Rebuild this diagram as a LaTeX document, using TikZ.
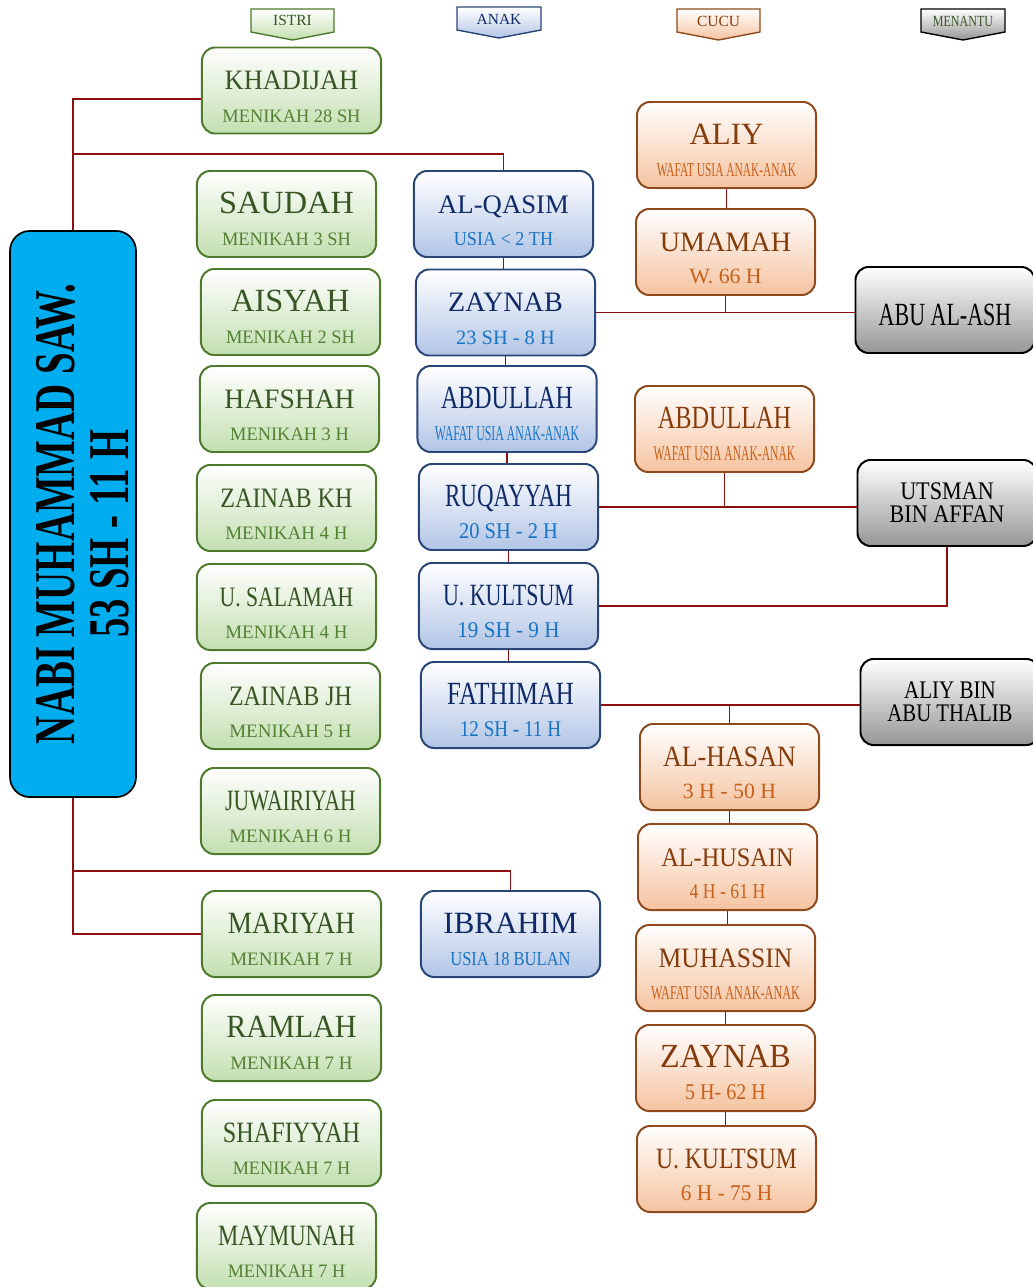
\documentclass[tikz,border=0pt]{standalone}
\usepackage{fontspec}
\usepackage{graphicx}
\setmainfont{Liberation Serif}
\definecolor{IstriLine}{HTML}{4E7A2E}
\definecolor{IstriFill}{HTML}{C3DFB0}
\definecolor{IstriText}{HTML}{375623}
\definecolor{IstriSub}{HTML}{548235}
\definecolor{AnakLine}{HTML}{2A4677}
\definecolor{AnakFill}{HTML}{B2C5E6}
\definecolor{AnakText}{HTML}{0F2A66}
\definecolor{AnakSub}{HTML}{1874C4}
\definecolor{CucuLine}{HTML}{8E4A1C}
\definecolor{CucuFill}{HTML}{F5C3A0}
\definecolor{CucuText}{HTML}{843C0C}
\definecolor{CucuSub}{HTML}{C8601A}
\definecolor{MenantuFill}{HTML}{969696}
\definecolor{NabiBlue}{HTML}{00AEEF}
\definecolor{LinkRed}{HTML}{8E0F0F}
\newcommand{\ttl}[3]{\rule{0pt}{22pt}\scalebox{#2}[1]{\fontsize{#1}{#1}\selectfont #3}}
\newcommand{\dte}[3]{\textcolor{\subc}{\scalebox{#2}[1]{\fontsize{#1}{#1}\selectfont #3}}}

\begin{document}
\begin{tikzpicture}[x=0.025cm,y=-0.025cm,
  box/.style={rounded corners=0.33cm,line width=1.4pt,minimum width=4.475cm,minimum height=2.15cm,
    align=center,inner sep=0pt,font=\fontsize{13}{23}\selectfont},
  istri/.style={box,draw=IstriLine,top color=white,bottom color=IstriFill,text=IstriText,
    execute at begin node={\def\subc{IstriSub}}},
  anak/.style={box,draw=AnakLine,top color=white,bottom color=AnakFill,text=AnakText,
    execute at begin node={\def\subc{AnakSub}}},
  cucu/.style={box,draw=CucuLine,top color=white,bottom color=CucuFill,text=CucuText,
    execute at begin node={\def\subc{CucuSub}}},
  menantu/.style={box,draw=black,top color=white,bottom color=MenantuFill,text=black,
    font=\fontsize{18}{16.5}\selectfont},
  nabi/.style={rounded corners=0.5cm,line width=1.2pt,draw=black,fill=NabiBlue,align=center,
    minimum width=14.15cm,minimum height=3.15cm,font=\bfseries\fontsize{41}{38}\selectfont},
  lgnd/.style={line width=1pt},
  lgtxt/.style={inner sep=0pt,font=\fontsize{11}{11}\selectfont},
  link/.style={LinkRed,line width=1.4pt}]
\useasboundingbox (0,0) rectangle (1032,1287);

% legend
\path[lgnd,draw=IstriLine,top color=white,bottom color=IstriFill] (251,9) -- (334,9) -- (334,32) -- (292.5,40) -- (251,32) -- cycle;
\path[lgnd,draw=AnakLine,top color=white,bottom color=AnakFill] (457,7) -- (541,7) -- (541,30) -- (499,38) -- (457,30) -- cycle;
\path[lgnd,draw=CucuLine,top color=white,bottom color=CucuFill] (677,9) -- (760,9) -- (760,32) -- (718.5,40) -- (677,32) -- cycle;
\path[lgnd,draw=black,top color=white,bottom color=MenantuFill] (921,9) -- (1005,9) -- (1005,32) -- (963,40) -- (921,32) -- cycle;
\node[lgtxt,text=IstriText] (lgistri) at (292.5,20) {ISTRI};
\node[lgtxt,text=AnakText] (lganak) at (499,19) {ANAK};
\node[lgtxt,text=CucuText] (lgcucu) at (718.5,21) {CUCU};
\node[lgtxt,text=IstriText] (lgmenantu) at (963,21) {\scalebox{.78}[1]{MENANTU}};

% nabi
\node[nabi,rotate=90] (nabi) at (73,514) {\rule{0pt}{41pt}\scalebox{.675}[1]{NABI MUHAMMAD SAW.}\\\scalebox{.67}[1]{53 SH - 11 H}\hspace*{28pt}};

% istri
\node[istri] (khadijah) at (291.5,90.5) {\ttl{20}{.94}{KHADIJAH}\\\dte{13.5}{.97}{MENIKAH 28 SH}};
\node[istri] (saudah) at (286.5,214) {\ttl{23}{1}{SAUDAH}\\\dte{13.5}{.97}{MENIKAH 3 SH}};
\node[istri] (aisyah) at (290.5,312) {\ttl{23}{1}{AISYAH}\\\dte{13.5}{.97}{MENIKAH 2 SH}};
\node[istri] (hafshah) at (289.5,409) {\ttl{20}{.98}{HAFSHAH}\\\dte{13.5}{.97}{MENIKAH 3 H}};
\node[istri] (zainabkh) at (286.5,508) {\ttl{20}{.86}{ZAINAB KH}\\\dte{13.5}{1}{MENIKAH 4 H}};
\node[istri] (salamah) at (286.5,607) {\ttl{20}{.77}{U. SALAMAH}\\\dte{13.5}{1}{MENIKAH 4 H}};
\node[istri] (zainabjh) at (290.5,706) {\ttl{20}{.85}{ZAINAB JH}\\\dte{13.5}{1}{MENIKAH 5 H}};
\node[istri] (juwairiyah) at (290.5,811) {\ttl{21}{.73}{JUWAIRIYAH}\\\dte{13.5}{1}{MENIKAH 6 H}};
\node[istri] (mariyah) at (291.5,934) {\ttl{22}{.88}{MARIYAH}\\\dte{13.5}{1}{MENIKAH 7 H}};
\node[istri] (ramlah) at (291.5,1038) {\ttl{23}{.93}{RAMLAH}\\\dte{13.5}{1}{MENIKAH 7 H}};
\node[istri] (shafiyyah) at (291.5,1143) {\ttl{21}{.82}{SHAFIYYAH}\\\dte{13.5}{.96}{MENIKAH 7 H}};
\node[istri] (maymunah) at (286.5,1246) {\ttl{21}{.77}{MAYMUNAH}\\\dte{13.5}{.96}{MENIKAH 7 H}};

% anak
\node[anak] (qasim) at (503.5,214) {\ttl{19}{1}{AL-QASIM}\\\dte{14}{.92}{USIA < 2 TH}};
\node[anak] (zaynab) at (505.5,312.5) {\ttl{20}{1}{ZAYNAB}\\\dte{14.5}{1}{23 SH - 8 H}};
\node[anak] (abdullah) at (507,409) {\ttl{23}{.74}{ABDULLAH}\\\dte{15}{.56}{WAFAT USIA ANAK-ANAK}};
\node[anak] (ruqayyah) at (508.5,507) {\ttl{23}{.71}{RUQAYYAH}\\\dte{16}{.91}{20 SH - 2 H}};
\node[anak] (kultsum) at (508.5,606) {\ttl{22}{.71}{U. KULTSUM}\\\dte{16}{.94}{19 SH - 9 H}};
\node[anak] (fathimah) at (510.5,705) {\ttl{23}{.77}{FATHIMAH}\\\dte{16}{.85}{12 SH - 11 H}};
\node[anak] (ibrahim) at (510.5,934) {\ttl{22}{1}{IBRAHIM}\\\dte{14}{.84}{USIA 18 BULAN}};

% cucu
\node[cucu] (aliy) at (726.5,145) {\ttl{22}{1}{ALIY}\\\dte{14}{.58}{WAFAT USIA ANAK-ANAK}};
\node[cucu] (umamah) at (725.5,252) {\ttl{20}{1}{UMAMAH}\\\dte{15.5}{1}{W. 66 H}};
\node[cucu] (abdullahc) at (724.5,429) {\ttl{23}{.75}{ABDULLAH}\\\dte{15}{.55}{WAFAT USIA ANAK-ANAK}};
\node[cucu] (hasan) at (729.5,767) {\ttl{21}{.88}{AL-HASAN}\\\dte{15.5}{1}{3 H - 50 H}};
\node[cucu] (husain) at (727.5,867) {\ttl{19}{.91}{AL-HUSAIN}\\\dte{15}{.84}{4 H - 61 H}};
\node[cucu] (muhassin) at (725.5,968) {\ttl{20}{.91}{MUHASSIN}\\\dte{14}{.62}{WAFAT USIA ANAK-ANAK}};
\node[cucu] (zaynabc) at (725.5,1068) {\ttl{24}{.95}{ZAYNAB}\\\dte{16}{.89}{5 H- 62 H}};
\node[cucu] (kultsumc) at (726.5,1169) {\ttl{21}{.8}{U. KULTSUM}\\\dte{16}{.95}{6 H - 75 H}};

% menantu
\node[menantu] (abuash) at (945,310) {\ttl{23}{.68}{ABU AL-ASH}};
\node[menantu] (utsman) at (947,503) {\scalebox{.875}[1]{UTSMAN}\\\scalebox{.875}[1]{BIN AFFAN}};
\node[menantu] (aliybin) at (950,702) {\scalebox{.83}[1]{ALIY BIN}\\\scalebox{.82}[1]{ABU THALIB}};

% garis
\coordinate (jq) at (73,154);
\coordinate (ji) at (73,871);
\draw[link] (nabi.east) |- ([yshift=-6pt]khadijah.west);
\draw[link] (jq) -| (qasim.north);
\draw[link] (nabi.west) |- (mariyah.west);
\draw[link] (ji) -| (ibrahim.north);
\draw[link] (qasim.south) -- (qasim.south |- zaynab.north);
\draw[link] (zaynab.south) -- (zaynab.south |- abdullah.north);
\draw[link] (abdullah.south) -- (abdullah.south |- ruqayyah.north);
\draw[link] (ruqayyah.south) -- (ruqayyah.south |- kultsum.north);
\draw[link] (kultsum.south) -- (kultsum.south |- fathimah.north);
\draw[link] (aliy.south) -- (aliy.south |- umamah.north);
\draw[link] (zaynab.east) -- (zaynab.east -| abuash.west);
\draw[link] (umamah.south) -- (umamah.south |- zaynab.east);
\draw[link] (ruqayyah.east) -- (ruqayyah.east -| utsman.west);
\draw[link] (abdullahc.south) -- (abdullahc.south |- ruqayyah.east);
\draw[link] (kultsum.east) -| (utsman.south);
\draw[link] (fathimah.east) -- (fathimah.east -| aliybin.west);
\draw[link] (hasan.north) -- (hasan.north |- fathimah.east);
\draw[link] (hasan.south) -- (hasan.south |- husain.north);
\draw[link] (husain.south) -- (husain.south |- muhassin.north);
\draw[link] (muhassin.south) -- (muhassin.south |- zaynabc.north);
\draw[link] (zaynabc.south) -- (zaynabc.south |- kultsumc.north);
\end{tikzpicture}
\end{document}
